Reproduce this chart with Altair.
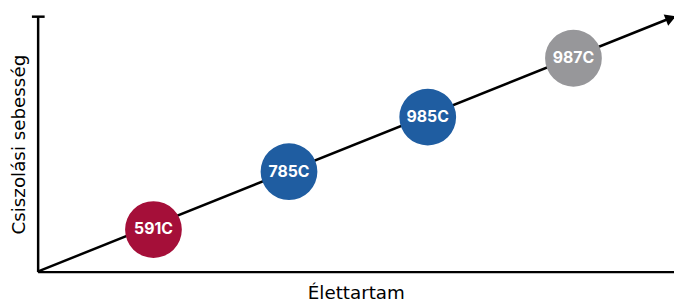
import altair as alt
import pandas as pd

labels = ["591C", "785C", "985C", "987C"]
xs = [18.2, 39.5, 61.3, 84.2]
ys = [16.5, 39.2, 60.6, 83.7]
colors = ["#A50F39", "#1F5DA1", "#1F5DA1", "#97979A"]

line_x = [0, 99.0]
line_y = [0, 99.0]
head_x = [99.5]
head_y = [99.4]

pts = pd.DataFrame({"x": xs, "y": ys, "label": labels, "color": colors})
ln = pd.DataFrame({"x": line_x, "y": line_y})
hd = pd.DataFrame({"x": head_x, "y": head_y})
cap = pd.DataFrame({"x": [-0.9], "x2": [1.1], "y": [100]})

xsc = alt.Scale(domain=[0, 100], nice=False, zero=False)
ysc = alt.Scale(domain=[0, 100], nice=False, zero=False)

xax = alt.Axis(labels=False, ticks=False, grid=False, domainColor="black", domainWidth=2.5,
               title="Élettartam", titleFont="DejaVu Sans", titleFontSize=18.5, titleFontWeight="normal",
               titleColor="black", titlePadding=12)
yax = alt.Axis(labels=False, ticks=False, grid=False, domainColor="black", domainWidth=2.5,
               title="Csiszolási sebesség", titleFont="DejaVu Sans", titleFontSize=18.5, titleFontWeight="normal",
               titleColor="black", titlePadding=9)

line = alt.Chart(ln).mark_line(color="black", strokeWidth=2.5).encode(
    x=alt.X("x:Q", scale=xsc, axis=xax),
    y=alt.Y("y:Q", scale=ysc, axis=yax),
)
head = alt.Chart(hd).mark_point(shape="triangle-right", filled=True, color="black", size=150,
                                angle=338.2, opacity=1).encode(
    x=alt.X("x:Q", scale=xsc), y=alt.Y("y:Q", scale=ysc))
capr = alt.Chart(cap).mark_rule(color="black", strokeWidth=2.5).encode(
    x=alt.X("x:Q", scale=xsc), x2="x2:Q", y=alt.Y("y:Q", scale=ysc))
circ = alt.Chart(pts).mark_circle(size=3300, opacity=1).encode(
    x=alt.X("x:Q", scale=xsc), y=alt.Y("y:Q", scale=ysc),
    color=alt.Color("color:N", scale=None))
txt = alt.Chart(pts).mark_text(color="white", font="Inter", fontSize=16, fontWeight="bold").encode(
    x=alt.X("x:Q", scale=xsc), y=alt.Y("y:Q", scale=ysc), text="label:N")

chart = alt.layer(line, head, capr, circ, txt).properties(
    width=644, height=258,
    padding={"left": 30, "top": 7, "right": 0, "bottom": 32},
    autosize=alt.AutoSizeParams(type="none"),
).configure_view(stroke=None)

chart.save("out.html", embed_options={"renderer": "svg", "actions": False})
